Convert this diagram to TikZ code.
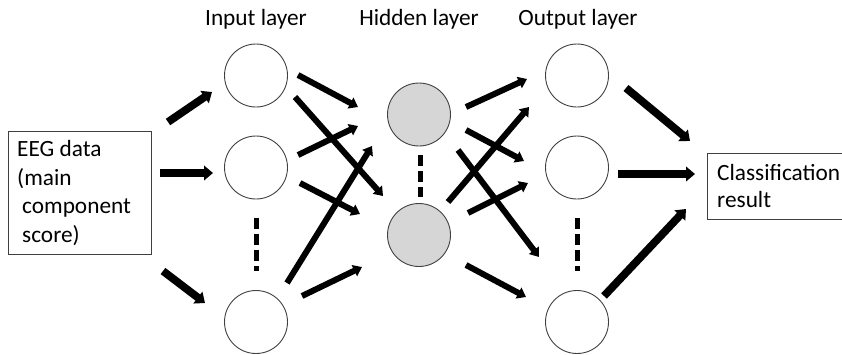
\documentclass[tikz,border=0pt]{standalone}
\usepackage{fontspec}
\setmainfont{Carlito}
\usetikzlibrary{arrows.meta}
\begin{document}
\begin{tikzpicture}[x=1pt,y=-1pt,
  neuron/.style={circle, draw=black!75, line width=0.9pt, minimum size=63pt, inner sep=0pt},
  hid/.style={neuron, fill=black!16},
  arr/.style={line width=6pt, -{Triangle[length=8.5pt,width=12pt]}},
  bigarr/.style={line width=7.8pt, -{Triangle[length=9pt,width=14.5pt]}},
  dots/.style={line width=5pt, dash pattern=on 11pt off 5pt},
  txt/.style={font=\fontsize{23.3}{28}\selectfont, anchor=base west, inner sep=0pt},
  head/.style={font=\fontsize{23.3}{28}\selectfont, anchor=base, inner sep=0pt},
  boxline/.style={draw=black!75, line width=1pt},
]
\useasboundingbox (0,0) rectangle (842,354);

% headers
\node[head] (tin) at (256,25) {Input layer};
\node[head] (thid) at (419,25) {Hidden layer};
\node[head] (tout) at (578,25) {Output layer};

% neurons
\node[neuron] (i1) at (256,75.5) {};
\node[neuron] (i2) at (256,167.5) {};
\node[neuron] (i3) at (256,322) {};
\node[hid] (h1) at (419,114.5) {};
\node[hid] (h2) at (419,235) {};
\node[neuron] (o1) at (577,75.5) {};
\node[neuron] (o2) at (577,167.5) {};
\node[neuron] (o3) at (577,322) {};

% EEG box
\node[boxline, rectangle, minimum width=143pt, minimum height=123pt, anchor=north west, inner sep=0pt] (eeg) at (8,131) {};
\node[txt] (e1) at (17,156) {EEG data};
\node[txt] (e2) at (17,185) {(main};
\node[txt] (e3) at (22,213) {component};
\node[txt] (e4) at (22,242) {score)};

% result box (right side cut by the page edge)
\node[boxline, rectangle, minimum width=150pt, minimum height=66pt, anchor=north west, inner sep=0pt] (res) at (707,153) {};
\node[txt] (r1) at (717,180) {Classification};
\node[txt] (r2) at (717,207) {result};

% dotted continuation marks
\coordinate (di0) at (256,218); \coordinate (di1) at (256,271);
\coordinate (dh0) at (420.5,155); \coordinate (dh1) at (420.5,197);
\coordinate (do0) at (577,218); \coordinate (do1) at (577,271);
\draw[dots] (di0) -- (di1);
\draw[dots] (dh0) -- (dh1);
\draw[dots] (do0) -- (do1);

% arrows into input layer
\coordinate (p1s) at (168,122); \coordinate (p1e) at (212,92);
\coordinate (p2s) at (160,173); \coordinate (p2e) at (213,173);
\coordinate (p3s) at (163,271); \coordinate (p3e) at (205,303);
\draw[bigarr] (p1s) -- (p1e);
\draw[bigarr] (p2s) -- (p2e);
\draw[bigarr] (p3s) -- (p3e);

% input -> hidden
\coordinate (as) at (298,75);  \coordinate (ae) at (358,107);
\coordinate (bs) at (295,97);  \coordinate (be) at (383,196);
\coordinate (cs) at (298,155); \coordinate (ce) at (358,126);
\coordinate (ds) at (300,183); \coordinate (de) at (360,214);
\coordinate (es) at (287,283); \coordinate (ee) at (372,146);
\coordinate (fs) at (302,296); \coordinate (fe) at (362,267);
\draw[arr] (as) -- (ae);
\draw[arr] (bs) -- (be);
\draw[arr] (cs) -- (ce);
\draw[arr] (ds) -- (de);
\draw[arr] (es) -- (ee);
\draw[arr] (fs) -- (fe);

% hidden -> output
\coordinate (gs) at (466,107); \coordinate (ge) at (527,79);
\coordinate (hs) at (466,130); \coordinate (he) at (524,161);
\coordinate (is) at (448,202); \coordinate (ie) at (529,107);
\coordinate (js) at (468,213); \coordinate (je) at (528,183);
\coordinate (ks) at (458,150); \coordinate (ke) at (539,257);
\coordinate (ls) at (466,265); \coordinate (le) at (526,297);
\draw[arr] (gs) -- (ge);
\draw[arr] (hs) -- (he);
\draw[arr] (is) -- (ie);
\draw[arr] (js) -- (je);
\draw[arr] (ks) -- (ke);
\draw[arr] (ls) -- (le);

% output -> result
\coordinate (ms) at (626,88);  \coordinate (me) at (690,141);
\coordinate (ns) at (618,174); \coordinate (ne) at (695,174);
\coordinate (os) at (604,296); \coordinate (oe) at (686,209);
\draw[bigarr] (ms) -- (me);
\draw[bigarr] (ns) -- (ne);
\draw[bigarr] (os) -- (oe);
\end{tikzpicture}
\end{document}
